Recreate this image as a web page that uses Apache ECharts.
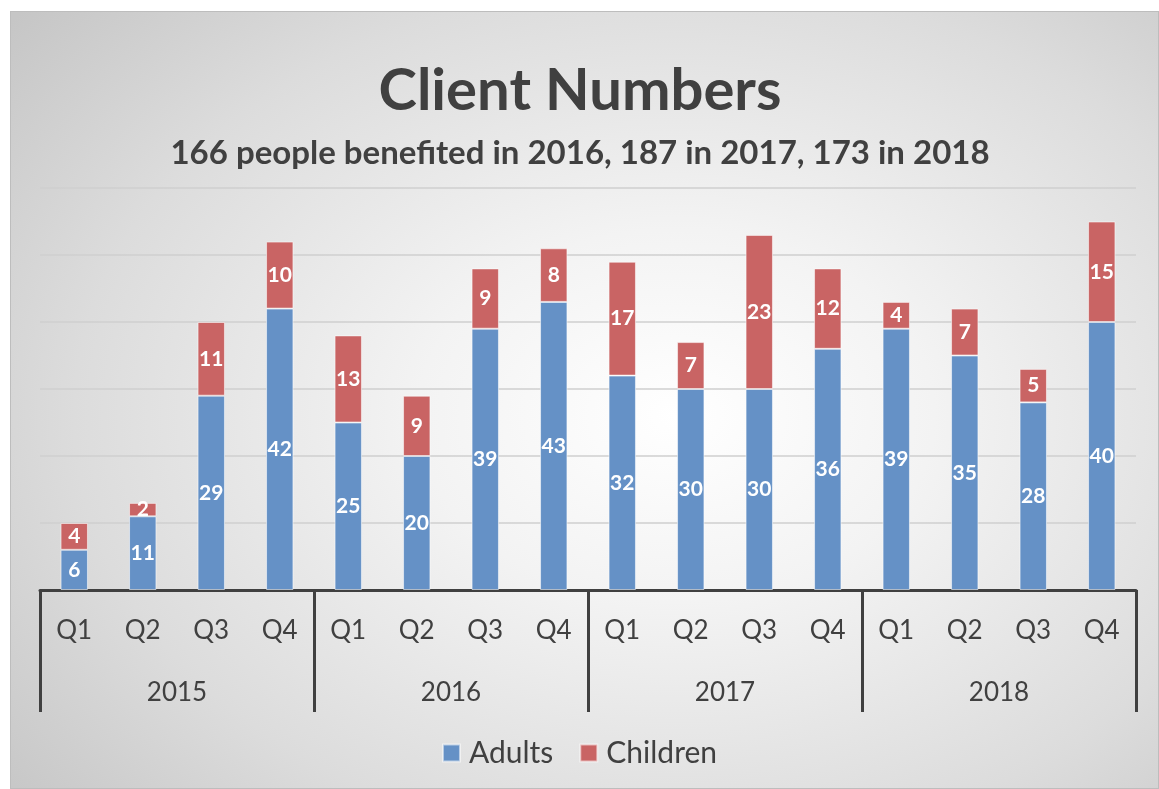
<!DOCTYPE html>
<html>
<head>
<meta charset="utf-8">
<script src="https://cdn.jsdelivr.net/npm/echarts@6/dist/echarts.min.js"></script>
<style>
  html, body { margin: 0; padding: 0; background: #fff; }
  #frame {
    position: absolute; left: 10px; top: 11px; width: 1147px; height: 776px;
    border: 1px solid #bdbdbd;
    background: radial-gradient(ellipse 75% 80% at 58% 52%, #ffffff 0%, #f3f3f3 30%, #dcdcdc 70%, #c6c6c6 100%);
  }
  #main { position: absolute; left: 0; top: 0; width: 1159px; height: 789px; }
</style>
</head>
<body>
<div id="frame"></div>
<div id="main"></div>
<script>
const quarters = ['Q1', 'Q2', 'Q3', 'Q4', 'Q1', 'Q2', 'Q3', 'Q4', 'Q1', 'Q2', 'Q3', 'Q4', 'Q1', 'Q2', 'Q3', 'Q4'];
const years = ['2015', '2016', '2017', '2018'];
const adults = [6, 11, 29, 42, 25, 20, 39, 43, 32, 30, 30, 36, 39, 35, 28, 40];
const children = [4, 2, 11, 10, 13, 9, 9, 8, 17, 7, 23, 12, 4, 7, 5, 15];

const font = 'Lato, "Open Sans", sans-serif';
const dark = '#404040';

const chart = echarts.init(document.getElementById('main'), null, { renderer: 'canvas' });

const barLabel = {
  show: true,
  position: 'inside',
  color: '#fff',
  fontFamily: font,
  fontWeight: 'bold',
  fontSize: 21
};

chart.setOption({
  textStyle: { fontFamily: font },
  title: [
    {
      text: 'Client Numbers',
      left: 575, top: 57, textAlign: 'center',
      textStyle: { fontSize: 58, fontWeight: 'bold', color: dark, fontFamily: font }
    },
    {
      text: '166 people benefited in 2016, 187 in 2017, 173 in 2018',
      left: 575, top: 132, textAlign: 'center',
      textStyle: { fontSize: 33, fontWeight: 'bold', color: dark, fontFamily: font }
    }
  ],
  legend: {
    bottom: 16,
    left: 'center',
    itemWidth: 17, itemHeight: 17, itemGap: 26,
    icon: 'rect',
    textStyle: { fontSize: 30, color: dark, fontFamily: font, padding: [0, 0, 0, 4] },
    data: ['Adults', 'Children']
  },
  grid: { left: 40, right: 23, top: 188, bottom: 199 },
  xAxis: [
    {
      type: 'category',
      data: quarters,
      axisLine: { lineStyle: { color: dark, width: 3 } },
      axisTick: { show: false },
      axisLabel: { color: dark, fontSize: 26, margin: 28, fontFamily: font, interval: 0 }
    },
    {
      type: 'category',
      data: years,
      position: 'bottom',
      offset: 0,
      axisLine: { show: false },
      axisTick: { show: true, length: 122, interval: 0, lineStyle: { color: dark, width: 3 } },
      axisLabel: { color: dark, fontSize: 26, margin: 90, fontFamily: font, interval: 0 }
    }
  ],
  yAxis: {
    type: 'value',
    min: 0, max: 60, interval: 10,
    axisLine: { show: false },
    axisTick: { show: false },
    axisLabel: { show: false },
    splitLine: { lineStyle: { color: '#cfcfcf', width: 1.5 } }
  },
  series: [
    {
      name: 'Adults',
      type: 'bar',
      stack: 'total',
      barWidth: '40%',
      data: adults,
      itemStyle: { color: '#6591c6', borderColor: 'rgba(255,255,255,0.55)', borderWidth: 1 },
      label: barLabel
    },
    {
      name: 'Children',
      type: 'bar',
      stack: 'total',
      data: children,
      itemStyle: { color: '#c96464', borderColor: 'rgba(255,255,255,0.55)', borderWidth: 1 },
      label: barLabel
    }
  ]
});
</script>
</body>
</html>
